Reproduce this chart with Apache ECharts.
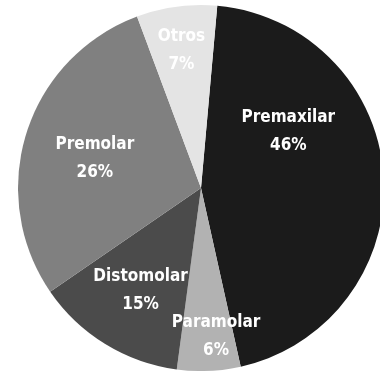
<!DOCTYPE html>
<html>
<head>
<meta charset="utf-8">
<script src="https://cdn.jsdelivr.net/npm/echarts@6/dist/echarts.min.js"></script>
<style>html,body{margin:0;padding:0;background:#fff;}#c{width:380px;height:371px;}</style>
</head>
<body>
<div id="c"></div>
<script>
// Data (slice shares as drawn, printed labels)
var categories = ['Premaxilar', 'Paramolar', 'Distomolar', 'Premolar', 'Otros'];
var sliceShares = [45.1, 5.6, 13.3, 28.9, 7.1];
var printedLabels = ['46%', '6%', '15%', '26%', '7%'];

// Styles
var colors = ['#1b1b1b', '#b2b2b2', '#4b4b4b', '#808080', '#e4e4e4'];
var labelShift = [[-7, -50], [11, 54], [-11, 22], [-16, -1], [-7, -44]];

var data = categories.map(function (name, i) {
  return { name: name, value: sliceShares[i], itemStyle: { color: colors[i] } };
});

var chart = echarts.init(document.getElementById('c'), null, { renderer: 'canvas' });
chart.setOption({
  animation: false,
  backgroundColor: '#ffffff',
  series: [{
    type: 'pie',
    center: [201, 188],
    radius: 183,
    startAngle: 84.9,
    clockwise: true,
    avoidLabelOverlap: false,
    data: data,
    itemStyle: { borderWidth: 0 },
    label: {
      show: true,
      position: 'inside',
      color: '#ffffff',
      fontFamily: "'DejaVu Sans Condensed', sans-serif",
      fontWeight: 'bold',
      fontSize: 17,
      lineHeight: 28,
      align: 'center',
      formatter: function (p) { return p.name + '\n' + printedLabels[p.dataIndex]; }
    },
    labelLine: { show: false },
    labelLayout: function (p) {
      var s = labelShift[p.dataIndex];
      return { dx: s[0], dy: s[1] };
    },
    emphasis: { disabled: true }
  }]
});
</script>
</body>
</html>
